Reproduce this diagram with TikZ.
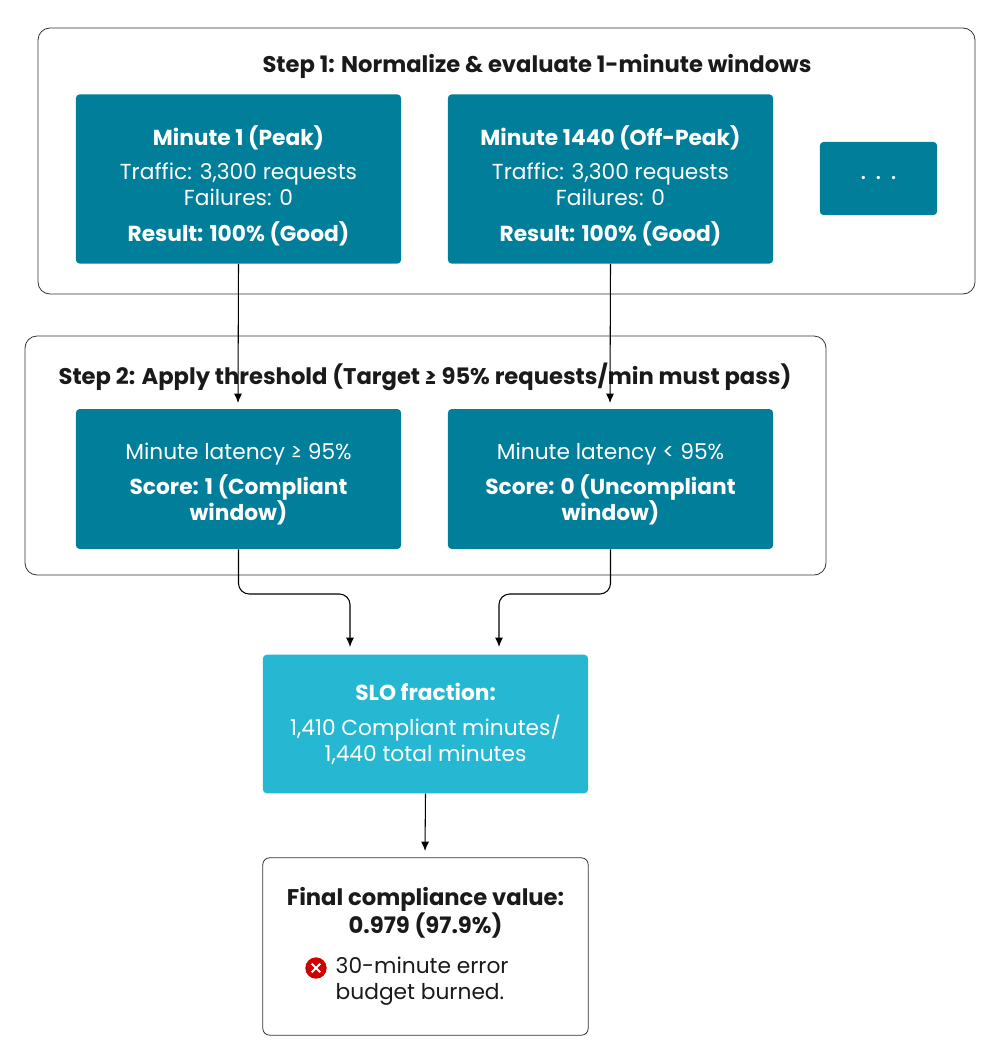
\documentclass[tikz,border=0pt]{standalone}
\usepackage{fontspec}
\setmainfont{Poppins}
\usetikzlibrary{arrows.meta,positioning,calc}
\definecolor{ink}{HTML}{1A1A1A}
\definecolor{teal1}{HTML}{007E9A}
\definecolor{cyan1}{HTML}{26B8D2}
\definecolor{frame}{HTML}{333333}
\definecolor{errred}{HTML}{D00000}
\tikzset{
  >={Latex[length=7pt,width=6pt]},
  every node/.style={font=\fontsize{16.3}{19.5}\selectfont, text=ink},
  group/.style={draw=frame, rounded corners=9pt, line width=0.6pt},
  block/.style={fill=teal1, rounded corners=3pt, align=center, text=white},
  blockC/.style={block, fill=cyan1},
  inner/.style={align=center, text=white},
  result/.style={draw=frame, fill=white, rounded corners=5pt, line width=0.6pt},
  arrow/.style={->, line width=0.8pt, draw=black, rounded corners=8pt},
  title/.style={font=\fontsize{17}{19.5}\selectfont\bfseries}
}
\begin{document}
\begin{tikzpicture}[x=0.75pt, y=-0.75pt]
  \useasboundingbox (0,0) rectangle (1000,1064);
  % Step 1
  \draw[group] (38,28) rectangle (975,294);
  \node[title] (t1) at (537,66) {Step 1: Normalize \& evaluate 1-minute windows};
  \node[block, minimum width=244pt, minimum height=127pt] (peak) at (238.5,179) {};
  \node[inner] (peaktxt) at (238.5,186)
    {\textbf{Minute 1 (Peak)}\\[6pt]Traffic: 3,300 requests\\Failures: 0\\[7pt]\textbf{Result: 100\% (Good)}};
  \node[block, minimum width=244pt, minimum height=127pt] (off) at (610.5,179) {};
  \node[inner] (offtxt) at (610.5,186)
    {\textbf{Minute 1440 (Off-Peak)}\\[6pt]Traffic: 3,300 requests\\Failures: 0\\[7pt]\textbf{Result: 100\% (Good)}};
  \node[block, minimum width=88pt, minimum height=55pt, font=\fontsize{20}{20}\selectfont] (more) at (878.5,178.5) {. . .};
  % Step 2
  \draw[group] (25,336) rectangle (826,575);
  \node[title] (t2) at (425,377) {Step 2: Apply threshold (Target ≥ 95\% requests/min must pass)};
  \node[block, minimum width=244pt, minimum height=105pt] (pass) at (238.5,479) {};
  \node[inner] (passtxt) at (238.5,484)
    {Minute latency ≥ 95\%\\[7pt]\textbf{Score: 1 (Compliant}\\\textbf{window)}};
  \node[block, minimum width=244pt, minimum height=105pt] (fail) at (610.5,479) {};
  \node[inner] (failtxt) at (610.5,484)
    {Minute latency < 95\%\\[7pt]\textbf{Score: 0 (Uncompliant}\\\textbf{window)}};
  % SLO and result
  \node[blockC, minimum width=244pt, minimum height=104pt] (slo) at (425.5,724)
    {\textbf{SLO fraction:}\\[7pt]1,410 Compliant minutes/\\1,440 total minutes};
  \node[result, minimum width=244pt, minimum height=133pt] (final) at (425.5,946.5) {};
  \node[title, align=center] (fv) at (425.5,913) {Final compliance value:\\0.979 (97.9\%)};
  \node[circle, fill=errred, inner sep=0pt, minimum size=16pt] (err) at (316,968) {};
  \draw[white, line width=1.4pt] ($(err)+(-3.2pt,-3.2pt)$) -- ($(err)+(3.2pt,3.2pt)$)
    ($(err)+(-3.2pt,3.2pt)$) -- ($(err)+(3.2pt,-3.2pt)$);
  \node[align=left, anchor=north west] (burn) at (331,952) {30-minute error\\budget burned.};
  % connectors
  \draw[arrow] (peak.south) -- (238,403);
  \draw[arrow] (off.south) -- (610,403);
  \draw[arrow] (pass.south) |- (350,594) -- (350,647);
  \draw[arrow] (fail.south) |- (499,594) -- (499,647);
  \draw[arrow] (slo.south) -- (425,851);
\end{tikzpicture}
\end{document}
